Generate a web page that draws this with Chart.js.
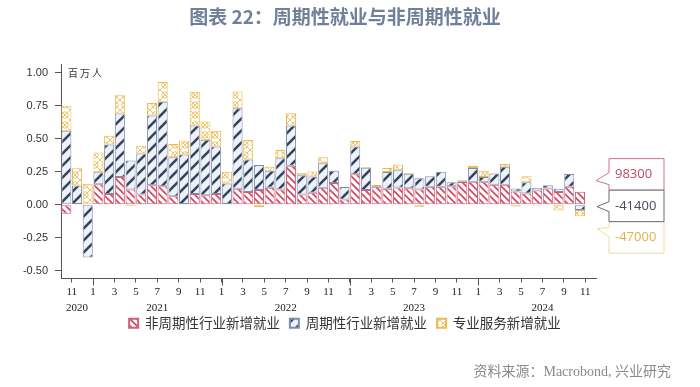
<!DOCTYPE html>
<html>
<head>
<meta charset="utf-8">
<script src="https://cdn.jsdelivr.net/npm/chart.js@4.4.0/dist/chart.umd.min.js"></script>
<style>
  html, body { margin: 0; padding: 0; background: #fff; }
</style>
</head>
<body>
<canvas id="chart1" width="700" height="387"></canvas>
<script>
// 月份 (最后一个月无数据, 只占位)
const months = [
  '2020-10','2020-11','2020-12',
  '2021-01','2021-02','2021-03','2021-04','2021-05','2021-06','2021-07','2021-08','2021-09','2021-10','2021-11','2021-12',
  '2022-01','2022-02','2022-03','2022-04','2022-05','2022-06','2022-07','2022-08','2022-09','2022-10','2022-11','2022-12',
  '2023-01','2023-02','2023-03','2023-04','2023-05','2023-06','2023-07','2023-08','2023-09','2023-10','2023-11','2023-12',
  '2024-01','2024-02','2024-03','2024-04','2024-05','2024-06','2024-07','2024-08','2024-09','2024-10','2024-11'
];

// 百万人
const nonCyclical = [-0.07, 0.005, 0.003, 0.154, 0.08, 0.21, 0.115, 0.077, 0.146, 0.14,
  0.064, 0.005, 0.08, 0.072, 0.08, 0.005, 0.12, 0.095, 0.11, 0.128,
  0.115, 0.295, 0.077, 0.09, 0.128, 0.164, 0.038, 0.231, 0.11, 0.135,
  0.12, 0.13, 0.125, 0.115, 0.135, 0.136, 0.14, 0.172, 0.174, 0.174,
  0.15, 0.15, 0.10, 0.085, 0.108, 0.123, 0.095, 0.135, 0.0983];
const cyclical = [0.56, 0.14, -0.40, 0.092, 0.375, 0.48, 0.22, 0.31, 0.53, 0.64,
  0.295, 0.375, 0.52, 0.42, 0.36, 0.155, 0.61, 0.248, 0.19, 0.128,
  0.236, 0.305, 0.146, 0.123, 0.185, 0.092, 0.095, 0.21, 0.17, 0.006,
  0.127, 0.13, 0.11, 0.085, 0.08, 0.113, 0.03, 0.006, 0.103, 0.036,
  0.086, 0.138, 0.023, 0.085, 0.02, 0.023, 0.025, 0.098, -0.0414];
const professional = [0.19, 0.13, 0.155, 0.15, 0.067, 0.14, -0.013, 0.06, 0.095, 0.15,
  0.10, 0.107, 0.256, 0.138, 0.12, 0.09, 0.128, 0.147, -0.02, 0.031,
  0.064, 0.092, 0.018, 0.038, 0.046, 0, 0, 0.041, 0.005, 0.008,
  0.03, 0.045, 0.005, -0.016, 0, 0, 0, 0.006, 0.016, 0.046,
  0.004, 0.02, -0.015, 0.046, -0.008, -0.004, -0.044, 0, -0.047];

const seriesNames = ['非周期性行业新增就业', '周期性行业新增就业', '专业服务新增就业'];
const yTicks = [-0.5, -0.25, 0, 0.25, 0.5, 0.75, 1.0];

// 斜线/网格填充
function makePattern(size, bg, draw) {
  const c = document.createElement('canvas');
  c.width = size; c.height = size;
  const g = c.getContext('2d');
  g.fillStyle = bg;
  g.fillRect(0, 0, size, size);
  draw(g, size);
  return g.createPattern(c, 'repeat');
}

const redFill = makePattern(7, '#ffffff', (g, s) => {
  g.strokeStyle = '#d24c66'; g.lineWidth = 1.8;
  g.beginPath();
  g.moveTo(-1, -1); g.lineTo(s + 1, s + 1);
  g.moveTo(-1, s - 1); g.lineTo(1, s + 1);
  g.moveTo(s - 1, -1); g.lineTo(s + 1, 1);
  g.stroke();
});
const blueFill = makePattern(12, '#edf2f9', (g, s) => {
  g.strokeStyle = '#37445f'; g.lineWidth = 2.6;
  g.beginPath();
  g.moveTo(-1, s + 1); g.lineTo(s + 1, -1);
  g.moveTo(-1, 1); g.lineTo(1, -1);
  g.moveTo(s - 1, s + 1); g.lineTo(s + 1, s - 1);
  g.stroke();
});
const yellowFill = makePattern(10, '#ffffff', (g, s) => {
  g.strokeStyle = '#efc46a'; g.lineWidth = 1;
  g.beginPath();
  g.moveTo(0, 0); g.lineTo(s, s);
  g.moveTo(s, 0); g.lineTo(0, s);
  g.stroke();
  g.beginPath();
  g.arc(s / 2, s / 2, 3.2, 0, Math.PI * 2);
  g.stroke();
});

function janIndex(yr) {
  const [y0, m0] = months[0].split('-').map(Number);
  return (yr - y0) * 12 + 1 - m0;
}

const extras = {
  id: 'extras',
  afterDraw(chart) {
    const { ctx, chartArea, scales: { x, y } } = chart;
    const w = x.getPixelForValue(1) - x.getPixelForValue(0);
    ctx.save();

    // 1月长刻度
    ctx.strokeStyle = '#555';
    ctx.lineWidth = 1;
    months.forEach((m, i) => {
      if (m.slice(5) === '01') {
        const px = Math.round(x.getPixelForValue(i) - w / 2) + 0.5;
        ctx.beginPath();
        ctx.moveTo(px, x.top);
        ctx.lineTo(px, x.top + 7);
        ctx.stroke();
      }
    });

    // 年份
    const years = [...new Set(months.map(m => Number(m.slice(0, 4))))];
    ctx.font = '11px "Liberation Serif"';
    ctx.fillStyle = '#222';
    ctx.textAlign = 'center';
    ctx.textBaseline = 'middle';
    years.forEach(yr => {
      const s = janIndex(yr);
      const left = Math.max(x.getPixelForValue(s) - w / 2, chartArea.left);
      const right = x.getPixelForValue(s + 12) - w / 2;
      ctx.fillText(String(yr), (left + right) / 2, x.top + 30);
    });

    // 单位
    ctx.font = '10px "Noto Sans CJK SC"';
    ctx.letterSpacing = '2px';
    ctx.fillStyle = '#333';
    ctx.textAlign = 'left';
    ctx.fillText('百万人', chartArea.left + 7, y.getPixelForValue(1));
    ctx.letterSpacing = '0px';

    // 最新值标注
    const last = [nonCyclical, cyclical, professional].map(a => a[a.length - 1]);
    const y0 = y.getPixelForValue(0);
    const bx = chartArea.right + 13, bw = 55, bh = 31.5;
    const boxes = [
      { top: y0 - 46, tip: [chartArea.right, y0 - 24], base: [y0 - 32, y0 - 20], stroke: '#cc7489', text: '#b94a63', v: last[0] },
      { top: y0 + 17, tip: [chartArea.right + 1, y0 + 24], base: [y0 + 23, y0 + 32], stroke: '#eedca6', text: '#e2b24c', v: last[2] },
      { top: y0 - 14.5, tip: [chartArea.right + 1, y0 + 2], base: [y0 - 3, y0 + 7], stroke: '#666b78', text: '#444c5c', v: last[1] }
    ];
    ctx.font = '13px "Open Sans"';
    ctx.textBaseline = 'middle';
    boxes.forEach(b => {
      ctx.beginPath();
      ctx.moveTo(bx, b.top);
      ctx.lineTo(bx + bw, b.top);
      ctx.lineTo(bx + bw, b.top + bh);
      ctx.lineTo(bx, b.top + bh);
      ctx.lineTo(bx, b.base[1]);
      ctx.lineTo(b.tip[0], b.tip[1]);
      ctx.lineTo(bx, b.base[0]);
      ctx.closePath();
      ctx.fillStyle = '#fff';
      ctx.fill();
      ctx.strokeStyle = b.stroke;
      ctx.lineWidth = 1;
      ctx.stroke();
      ctx.fillStyle = b.text;
      ctx.fillText(String(Math.round(b.v * 1e6)), bx + 6, b.top + bh / 2);
    });

    // 资料来源
    ctx.font = '14px "Liberation Serif", "Noto Sans CJK SC"';
    ctx.fillStyle = '#8a8a8a';
    ctx.textAlign = 'right';
    ctx.fillText('资料来源：Macrobond, 兴业研究', 671, 372);
    ctx.restore();
  }
};

const common = { borderWidth: 1, borderSkipped: false, barPercentage: 0.94, categoryPercentage: 1.0 };

new Chart(document.getElementById('chart1'), {
  type: 'bar',
  data: {
    labels: months,
    datasets: [
      { label: seriesNames[0], data: nonCyclical, backgroundColor: redFill, borderColor: '#d06078', ...common },
      { label: seriesNames[1], data: cyclical, backgroundColor: blueFill, borderColor: '#7f8ea8', ...common },
      { label: seriesNames[2], data: professional, backgroundColor: yellowFill, borderColor: '#e9bb50', ...common }
    ]
  },
  options: {
    responsive: false,
    animation: false,
    layout: { padding: { left: 0, right: 10, top: 0, bottom: 47 } },
    plugins: {
      title: {
        display: true,
        text: '图表 22：周期性就业与非周期性就业',
        color: '#6f809a',
        font: { family: '"Noto Sans CJK SC"', size: 19, weight: 'bold' },
        padding: { top: 5, bottom: 37 }
      },
      legend: {
        position: 'bottom',
        labels: {
          boxWidth: 9,
          boxHeight: 9,
          padding: 10,
          color: '#333',
          font: { family: '"Noto Sans CJK SC"', size: 13.5 },
          generateLabels(chart) {
            const items = Chart.defaults.plugins.legend.labels.generateLabels(chart);
            items.forEach(it => { it.lineWidth = 2; });
            return items;
          }
        }
      },
      tooltip: { enabled: false }
    },
    scales: {
      x: {
        stacked: true,
        offset: true,
        afterFit(s) { s.height = 28; },
        grid: {
          offset: true,
          drawOnChartArea: false,
          tickLength: 4,
          color: ctx => (ctx.tick && ctx.tick.label !== '' ? '#555' : 'rgba(0,0,0,0)')
        },
        border: { display: true, color: '#555' },
        ticks: {
          autoSkip: false,
          maxRotation: 0,
          padding: 3,
          labelOffset: -5.35,
          color: '#222',
          font: { family: '"Liberation Serif"', size: 11 },
          callback: (v, i) => {
            const m = Number(months[i].slice(5));
            return m % 2 === 1 ? String(m) : '';
          }
        }
      },
      y: {
        stacked: true,
        min: -0.56,
        max: 1.06,
        afterFit(s) { s.width = 61; },
        afterBuildTicks(s) { s.ticks = yTicks.map(v => ({ value: v })); },
        grid: { drawOnChartArea: false, tickLength: 6, color: '#555' },
        border: { display: true, color: '#555' },
        ticks: {
          padding: 7,
          color: '#333',
          font: { family: '"Liberation Sans"', size: 11 },
          callback: v => v.toFixed(2)
        }
      },
      y2: {
        type: 'linear',
        position: 'right',
        afterFit(s) { s.width = 94; },
        grid: { display: false },
        border: { display: false },
        ticks: { display: false }
      }
    }
  },
  plugins: [extras]
});
</script>
</body>
</html>
